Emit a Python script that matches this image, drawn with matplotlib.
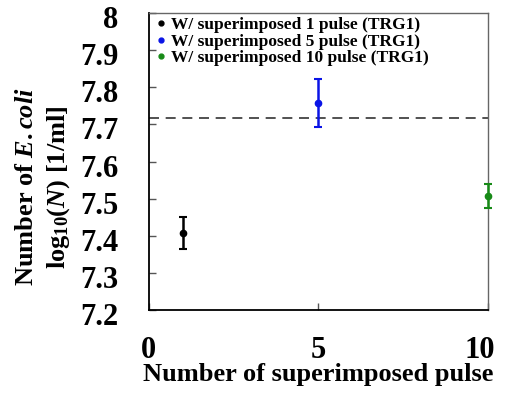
import matplotlib
matplotlib.use("Agg")
import matplotlib.pyplot as plt
import matplotlib.transforms as mtransforms

plt.rcParams['font.family'] = ['Liberation Serif', 'DejaVu Serif']
plt.rcParams['font.weight'] = 'bold'
plt.rcParams['mathtext.fontset'] = 'custom'
plt.rcParams['mathtext.rm'] = 'Liberation Serif:bold'
plt.rcParams['mathtext.it'] = 'Liberation Serif:italic:bold'
plt.rcParams['mathtext.bf'] = 'Liberation Serif:bold'

pulses = [1, 5, 10]
means = [7.408, 7.757, 7.508]
errs = [0.043, 0.065, 0.032]
colors = ['black', '#0a14e6', '#178a17']
labels = ['W/ superimposed 1 pulse (TRG1)',
          'W/ superimposed 5 pulse (TRG1)',
          'W/ superimposed 10 pulse (TRG1)']
control = 7.718
xticks = [0, 5, 10]
yticks = [7.2, 7.3, 7.4, 7.5, 7.6, 7.7, 7.8, 7.9, 8.0]
yticklabels = ['7.2', '7.3', '7.4', '7.5', '7.6', '7.7', '7.8', '7.9', '8']

fig = plt.figure(figsize=(5.1, 3.98), dpi=100)
ax = fig.add_axes([0.292, 0.221, 0.665, 0.746])

for x, m, e, c, lab in zip(pulses, means, errs, colors, labels):
    ax.errorbar([x], [m], yerr=[e], fmt='o', color=c, ms=4.5, capsize=3,
                elinewidth=1.8, capthick=1.5, label=lab, clip_on=False, zorder=3)

ax.axhline(control, color='#333333', ls=(0, (6, 4)), lw=1.2, zorder=2)

ax.set_xlim(0, 10)
ax.set_ylim(7.2, 8.0)
ax.set_xticks(xticks)
ax.set_xticklabels([str(v) for v in xticks])
ax.set_yticks(yticks)
ax.set_yticklabels(yticklabels)
ax.tick_params(axis='both', direction='in', length=5, width=1, colors='#555555',
               labelsize=22, labelcolor='black')
ax.tick_params(axis='y', pad=22)
ax.tick_params(axis='x', pad=19)
off = mtransforms.ScaledTranslation(0, -4 / 100, fig.dpi_scale_trans)
for lbl in ax.get_yticklabels():
    lbl.set_transform(lbl.get_transform() + off)
xoff = mtransforms.ScaledTranslation(-8 / 100, 0, fig.dpi_scale_trans)
xl = ax.get_xticklabels()[-1]
xl.set_transform(xl.get_transform() + xoff)
for s in ['left', 'bottom']:
    ax.spines[s].set_color('black')
    ax.spines[s].set_linewidth(1.3)
for s in ['top', 'right']:
    ax.spines[s].set_color('#666666')
    ax.spines[s].set_linewidth(1.0)

ax.set_xlabel('Number of superimposed pulse', fontsize=19, fontweight='bold')
ax.xaxis.set_label_coords(0.5, -0.18)
ax.xaxis.label.set_va('top')
ax.set_ylabel('Number of $\\mathit{E.coli}$\n$\\mathrm{log}_{10}(\\mathit{N})$ [1/ml]',
              fontsize=19, fontweight='bold', linespacing=1.35)
ax.yaxis.set_label_coords(-0.228, 0.414)

handles = [plt.Line2D([], [], ls='', marker='o', ms=3.5, color=c) for c in colors]
ax.legend(handles, labels, loc='upper left', frameon=False,
          handlelength=0.4, handletextpad=0.4, labelspacing=0.02,
          borderaxespad=0.0, bbox_to_anchor=(0.005, 1.01), prop={'weight': 'bold', 'size': 12.5})

fig.savefig('out.png', dpi=100)
